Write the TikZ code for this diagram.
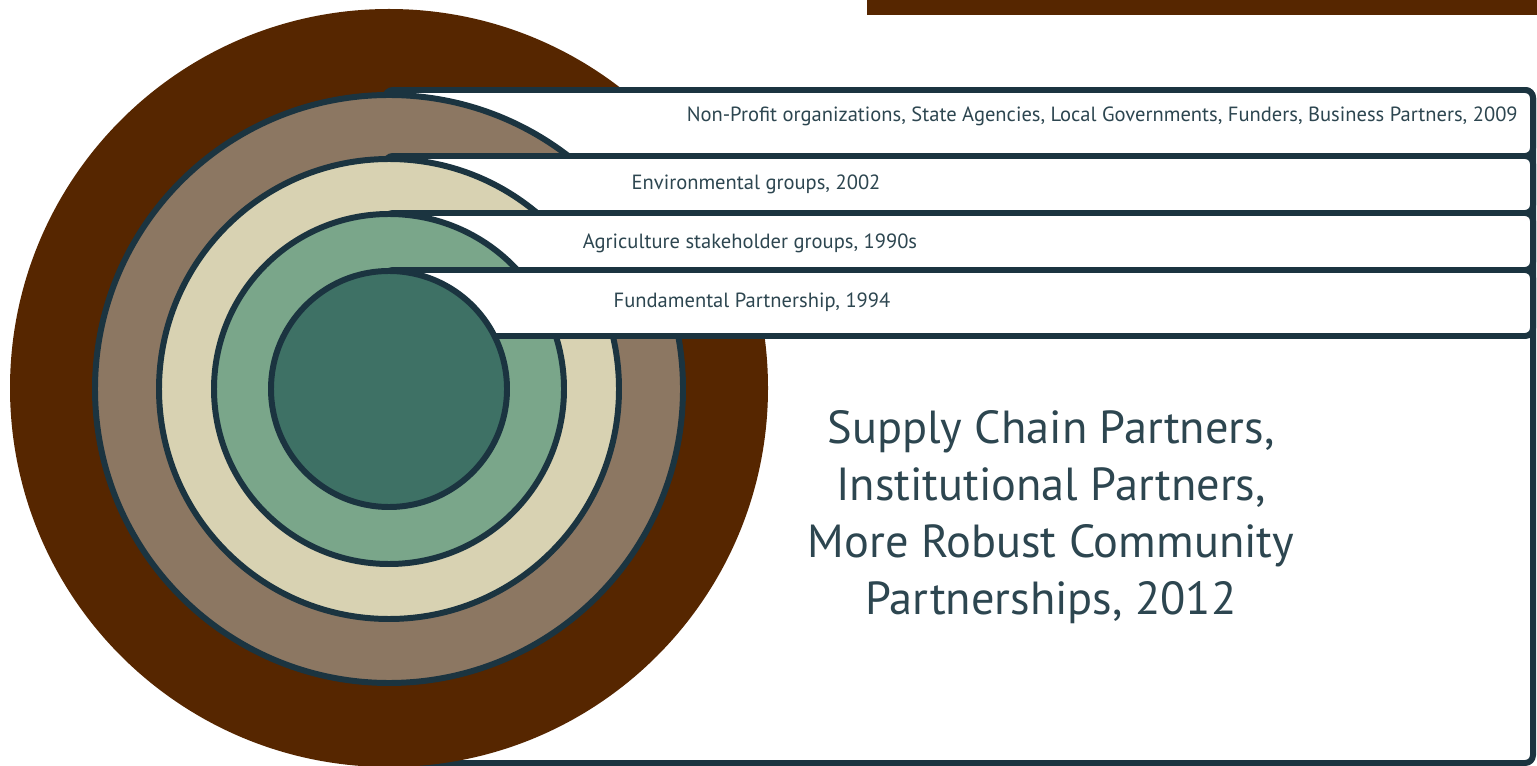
\documentclass[tikz,border=0pt]{standalone}
\usepackage{fontspec}
\setmainfont{PT Sans}
\definecolor{soil}{RGB}{86,38,0}
\definecolor{taupe}{RGB}{140,119,98}
\definecolor{cream}{RGB}{216,210,178}
\definecolor{sage}{RGB}{122,166,138}
\definecolor{pine}{RGB}{62,113,101}
\definecolor{edge}{RGB}{27,52,64}
\definecolor{ink}{RGB}{45,70,80}

\begin{document}
\begin{tikzpicture}[x=0.02cm, y=-0.02cm,
        band/.style = {draw=edge, fill=white, line width=3.4pt, rounded corners=4.5pt},
        ring/.style = {draw=edge, line width=3.4pt},
        lbl/.style = {text=ink, font=\fontsize{11.7}{13}\selectfont, inner sep=0pt}]
    \useasboundingbox (0, 0) rectangle (1537, 766);
    \fill[soil] (867, 0) rectangle (1537, 15);
    \draw[band] (385, 90) rectangle (1533, 763);
    \fill[soil] (389, 388) circle [radius=379];
    \draw[band] (385, 90) rectangle (1533, 156);
    \filldraw[ring, fill=taupe] (389, 389) circle [radius=294];
    \draw[band] (385, 156) rectangle (1533, 213);
    \filldraw[ring, fill=cream] (389, 389) circle [radius=230];
    \draw[band] (385, 213) rectangle (1533, 270);
    \filldraw[ring, fill=sage] (389, 389) circle [radius=175];
    \draw[band] (385, 270) rectangle (1533, 336);
    \filldraw[ring, fill=pine] (389, 389) circle [radius=118];
    \node[lbl, anchor=east] (lblNonprofit) at (1518, 116) {Non-Profit organizations, State Agencies, Local Governments, Funders, Business Partners, 2009};
    \node[lbl] (lblEnv) at (756, 184) {Environmental groups, 2002};
    \node[lbl] (lblAgri) at (750, 243) {Agriculture stakeholder groups, 1990s};
    \node[lbl] (lblFund) at (752, 302) {Fundamental Partnership, 1994};
    \node[text=ink, align=center, font=\fontsize{26.4}{32.3}\selectfont] (lblSupply) at (1051, 517)
        {Supply Chain Partners,\\Institutional Partners,\\More Robust Community\\Partnerships, 2012};
\end{tikzpicture}
\end{document}
